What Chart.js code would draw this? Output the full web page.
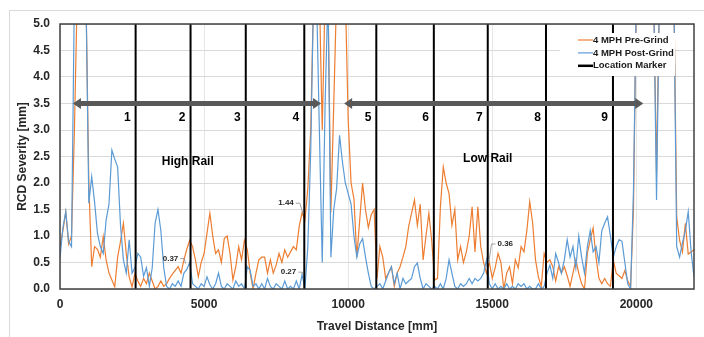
<!DOCTYPE html>
<html><head><meta charset="utf-8">
<script src="https://cdn.jsdelivr.net/npm/chart.js@4.4.1/dist/chart.umd.min.js"></script>
<style>html,body{margin:0;padding:0;background:#fff;}canvas{display:block}</style>
</head><body>
<canvas id="c" width="704" height="337"></canvas>
<script>
const distance = [0,100,200,300,400,500,600,700,800,900,1000,1100,1200,1300,1400,1500,1600,1700,1800,1900,2000,2100,2200,2300,2400,2500,2600,2700,2800,2900,3000,3100,3200,3300,3400,3500,3600,3700,3800,3900,4000,4100,4200,4300,4400,4500,4600,4700,4800,4900,5000,5100,5200,5300,5400,5500,5600,5700,5800,5900,6000,6100,6200,6300,6400,6500,6600,6700,6800,6900,7000,7100,7200,7300,7400,7500,7600,7700,7800,7900,8000,8100,8200,8300,8400,8500,8600,8700,8800,8900,9000,9100,9200,9300,9400,9500,9600,9700,9800,9900,10000,10100,10200,10300,10400,10500,10600,10700,10800,10900,11000,11100,11200,11300,11400,11500,11600,11700,11800,11900,12000,12100,12200,12300,12400,12500,12600,12700,12800,12900,13000,13100,13200,13300,13400,13500,13600,13700,13800,13900,14000,14100,14200,14300,14400,14500,14600,14700,14800,14900,15000,15100,15200,15300,15400,15500,15600,15700,15800,15900,16000,16100,16200,16300,16400,16500,16600,16700,16800,16900,17000,17100,17200,17300,17400,17500,17600,17700,17800,17900,18000,18100,18200,18300,18400,18500,18600,18700,18800,18900,19000,19100,19200,19300,19400,19500,19600,19700,19800,19900,20000,20100,20200,20300,20400,20500,20600,20700,20800,20900,21000,21100,21200,21300,21400,21500,21600,21700,21800,21900,22000];

const preGrind = [0.8,1.1,1.45,0.85,1.0,3.0,5.6,5.6,5.6,5.6,
2.0,0.42,0.8,0.75,0.6,0.99,0.55,0.3,0.17,0.04,
0.6,0.9,1.24,0.66,0.23,0.04,0.3,0.15,0.05,0.2,
0.1,0.3,0.15,0.0,0.05,0.15,0.05,0.1,0.2,0.28,
0.35,0.42,0.3,0.55,0.75,0.92,0.8,0.55,0.23,0.5,
0.67,1.05,1.43,1.0,0.67,0.74,0.5,0.95,1.0,0.67,
0.17,0.42,0.8,0.55,0.92,0.74,0.3,0.0,0.3,0.55,
0.6,0.6,0.3,0.55,0.3,0.45,0.67,0.5,0.74,0.6,
0.7,0.8,0.74,1.18,1.44,1.3,1.9,3.0,5.6,5.6,
5.6,3.0,5.6,5.6,1.45,3.5,5.6,5.6,5.6,5.6,
3.2,2.0,1.7,0.6,1.3,2.0,1.5,1.16,1.4,1.5,
0.2,0.8,0.6,0.2,0.3,0.42,0.05,0.3,0.42,0.6,
0.8,1.18,1.43,1.68,1.2,1.6,0.55,1.0,1.43,0.9,
0.17,0.2,1.55,2.3,2.0,1.8,1.2,1.5,0.55,0.8,
0.5,0.7,1.0,1.55,0.7,1.55,0.8,0.5,0.3,0.5,
0.2,0.4,0.67,0.5,0.0,0.3,0.42,0.1,0.55,0.4,
0.8,0.7,1.1,1.65,1.25,0.55,0.23,0.05,0.67,0.5,
0.55,0.42,0.15,0.42,0.3,0.42,0.25,0.05,0.3,0.55,
0.3,0.1,0.0,0.67,0.93,1.15,0.6,0.2,0.1,0.2,
0.1,0.05,0.55,0.3,0.25,0.2,0.35,0.15,0.05,1.5,
5.6,5.6,5.6,5.6,5.6,5.6,5.6,2.2,5.6,5.6,
5.6,5.6,5.6,5.6,1.36,0.92,0.7,1.24,0.66,0.7,
0.74];

const postGrind = [0.58,1.15,1.46,0.9,0.8,5.6,5.6,5.6,5.6,5.6,
1.62,2.12,1.64,1.05,0.8,0.67,1.3,1.6,2.62,2.45,
2.3,1.2,0.55,0.3,0.93,0.3,0.4,0.67,0.6,0.24,
0.4,0.05,0.4,1.24,1.5,1.1,0.4,0.05,0.0,0.1,
0.05,0.15,0.05,0.3,0.37,0.5,0.1,0.05,0.0,0.1,
0.05,0.23,0.08,0.0,0.1,0.3,0.05,0.0,0.1,0.05,
0.0,0.15,0.05,0.1,0.0,0.42,0.35,0.05,0.1,0.0,
0.1,0.0,0.2,0.05,0.0,0.1,0.05,0.0,0.15,0.0,
0.05,0.0,0.15,0.0,0.27,0.02,0.8,2.6,5.6,5.6,
3.0,0.5,3.5,5.6,0.6,1.5,1.9,2.9,2.4,2.0,
1.8,1.6,1.0,0.6,0.85,0.95,0.6,0.3,0.05,0.0,
0.05,0.1,0.0,0.15,0.3,0.42,0.1,0.3,0.0,0.2,
0.1,0.15,0.2,0.42,0.49,0.2,0.0,0.1,0.05,0.0,
0.05,0.0,0.1,0.0,0.2,0.55,0.3,0.05,0.0,0.1,
0.05,0.1,0.2,0.1,0.2,0.15,0.2,0.3,0.55,0.1,
0.0,0.1,0.0,0.05,0.0,0.1,0.0,0.05,0.0,0.1,
0.05,0.1,0.0,0.05,0.0,0.0,0.1,0.0,0.05,0.3,
0.45,0.2,0.67,0.5,0.3,0.55,0.93,0.6,0.8,0.4,
1.0,0.6,0.3,0.8,1.1,0.7,0.8,0.5,1.1,1.24,
1.36,1.0,0.6,0.8,0.93,0.9,0.5,0.1,0.0,1.86,
5.6,5.6,5.6,5.6,5.6,5.6,5.6,1.68,5.6,5.6,
5.6,5.6,5.6,5.6,0.8,0.6,0.87,1.1,1.46,0.7,
0.23];

const markerPositions = [2624, 4530, 6446, 8477, 10976, 12972, 14843, 16864, 19188];
const markerLabels = ['1','2','3','4','5','6','7','8','9'];
const arrowSpans = [[450, 9060], [9860, 20240]];
const arrowLevel = 3.5;
const railText = ['High Rail', 'Low Rail'];
const railX = [4432, 14843];
const railY = [2.4, 2.45];
const calloutText = ['0.37', '1.44', '0.27', '0.36'];
const calloutX = [4355, 8432, 8397, 14878];
const calloutY = [0.48, 1.43, 0.28, 0.49];
const seriesNames = ['4 MPH Pre-Grind', '4 MPH Post-Grind', 'Location Marker'];
const xTicks = [0, 5000, 10000, 15000, 20000];

const ORANGE = '#ED7D31', BLUE = '#5B9BD5';
const toXY = (vals) => distance.map((d, i) => ({x: d, y: vals[i]}));

const datasets = [];
markerPositions.forEach((m) => {
  datasets.push({label: 'Location Marker', data: [{x: m, y: 0}, {x: m, y: 5}],
    borderColor: '#000', borderWidth: 2, pointRadius: 0, order: 0});
});
datasets.push({label: seriesNames[1], data: toXY(postGrind), borderColor: BLUE, borderWidth: 1.2, pointRadius: 0, order: 1});
datasets.push({label: seriesNames[0], data: toXY(preGrind), borderColor: ORANGE, borderWidth: 1.2, pointRadius: 0, order: 2});

const decor = {
  id: 'decor',
  beforeDraw(chart) {
    const ctx = chart.ctx;
    ctx.save();
    ctx.strokeStyle = '#d9d9d9'; ctx.lineWidth = 1;
    ctx.strokeRect(9.5, 10.5, 900, 500);
    ctx.restore();
  },
  afterDatasetsDraw(chart) {
    const ctx = chart.ctx, xs = chart.scales.x, ys = chart.scales.y, ca = chart.chartArea;
    ctx.save();
    // frame
    ctx.strokeStyle = '#404040'; ctx.lineWidth = 1.5;
    ctx.strokeRect(ca.left, ca.top, ca.right - ca.left, ca.bottom - ca.top);
    // arrows
    ctx.fillStyle = '#595959'; ctx.strokeStyle = '#595959';
    const ay = ys.getPixelForValue(arrowLevel);
    arrowSpans.forEach(([a, b], k) => {
      const x1 = xs.getPixelForValue(a), x2 = xs.getPixelForValue(b);
      const hl = 8, hh = 5.5;
      ctx.fillRect(x1 + hl - 1, ay - 2.5, (x2 - x1) - 2 * hl + 2, 5);
      ctx.beginPath(); ctx.moveTo(x1, ay); ctx.lineTo(x1 + hl, ay - hh); ctx.lineTo(x1 + hl, ay + hh); ctx.closePath(); ctx.fill();
      ctx.beginPath(); ctx.moveTo(x2, ay); ctx.lineTo(x2 - hl, ay - hh); ctx.lineTo(x2 - hl, ay + hh); ctx.closePath(); ctx.fill();
    });
    // marker numbers
    ctx.fillStyle = '#000';
    ctx.font = 'bold 12px "Liberation Sans", Arial, sans-serif';
    ctx.textAlign = 'right'; ctx.textBaseline = 'middle';
    markerPositions.forEach((m, i) => {
      ctx.fillText(markerLabels[i], xs.getPixelForValue(m) - 5, ay + 14);
    });
    // rail labels
    ctx.textAlign = 'center';
    railText.forEach((t, i) => {
      ctx.fillText(t, xs.getPixelForValue(railX[i]), ys.getPixelForValue(railY[i]));
    });
    // callouts
    const offs = [[-15, -5], [-17, -10], [-13.5, -2], [16.5, -19]];
    ctx.font = 'bold 8px "Liberation Sans", Arial, sans-serif';
    calloutText.forEach((t, i) => {
      const px = xs.getPixelForValue(calloutX[i]), py = ys.getPixelForValue(calloutY[i]);
      const tx = px + offs[i][0], ty = py + offs[i][1];
      ctx.fillStyle = '#262626';
      ctx.fillText(t, tx, ty);
      const w = ctx.measureText(t).width;
      ctx.strokeStyle = '#8c8c8c'; ctx.lineWidth = 0.8;
      ctx.beginPath();
      if (offs[i][0] < 0) {
        ctx.moveTo(tx + w / 2 + 2, ty); ctx.lineTo(tx + w / 2 + 6, ty);
      } else {
        ctx.moveTo(tx - w / 2 - 2, ty); ctx.lineTo(tx - w / 2 - 6, ty);
      }
      ctx.lineTo(px, py);
      ctx.stroke();
    });
    // legend
    const lx = ca.right - 134, ly = ca.top + 9;
    ctx.fillStyle = '#fff';
    ctx.fillRect(lx, ly, 115, 43);
    const colors = [ORANGE, BLUE, '#000'], widths = [1.2, 1.2, 2.5];
    ctx.font = 'bold 9.5px "Liberation Sans", Arial, sans-serif';
    ctx.textAlign = 'left'; ctx.textBaseline = 'middle';
    seriesNames.forEach((n, i) => {
      const yy = ca.top + 16 + i * 12.9;
      ctx.strokeStyle = colors[i]; ctx.lineWidth = widths[i];
      ctx.beginPath(); ctx.moveTo(lx + 18, yy); ctx.lineTo(lx + 33, yy); ctx.stroke();
      ctx.fillStyle = '#1a1a1a';
      ctx.fillText(n, lx + 33, yy);
    });
    ctx.restore();
  }
};

const font12 = {family: '"Liberation Sans", Arial, sans-serif', size: 12, weight: 'bold'};
new Chart(document.getElementById('c'), {
  type: 'line',
  data: {datasets},
  options: {
    responsive: false, animation: false, devicePixelRatio: 1,
    layout: {padding: {left: 0, top: 24, right: 10, bottom: 0}},
    plugins: {legend: {display: false}, tooltip: {enabled: false}},
    elements: {line: {tension: 0}},
    scales: {
      x: {
        type: 'linear', min: 0, max: 22000,
        afterFit: (s) => { s.height = 48; },
        afterBuildTicks: (s) => { s.ticks = xTicks.map(v => ({value: v})); },
        ticks: {callback: (v) => String(v), font: font12, color: '#262626', padding: 8, maxRotation: 0},
        grid: {color: '#e6e6e6', drawTicks: false},
        border: {display: false},
        title: {display: true, text: 'Travel Distance [mm]', font: font12, color: '#262626', padding: {top: 0, bottom: 3}}
      },
      y: {
        min: 0, max: 5,
        afterFit: (s) => { s.width = 60; },
        ticks: {stepSize: 0.5, callback: (v) => Number(v).toFixed(1), font: font12, color: '#262626', padding: 10},
        grid: {color: '#d9d9d9', drawTicks: false},
        border: {display: false},
        title: {display: true, text: 'RCD Severity [mm]', font: font12, color: '#262626', padding: {top: 15, bottom: 0}}
      }
    }
  },
  plugins: [decor]
});
</script>
</body></html>
